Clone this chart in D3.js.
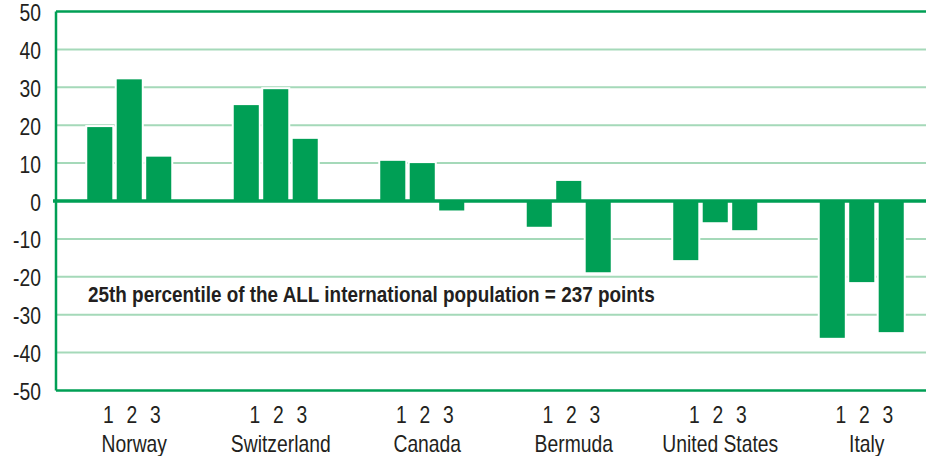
<!DOCTYPE html>
<html>
<head>
<meta charset="utf-8">
<script src="https://cdn.jsdelivr.net/npm/d3@7"></script>
<style>
  html, body { margin: 0; padding: 0; background: #fff; }
  svg { display: block; }
  text { font-family: "Liberation Sans", Arial, sans-serif; fill: #231f20; }
</style>
</head>
<body>
<svg id="chart" width="926" height="456"></svg>
<script>
// Score differences by country, three sub-groups each
const countries = ["Norway", "Switzerland", "Canada", "Bermuda", "United States", "Italy"];
const subGroups = ["1", "2", "3"];
const group1 = [19.5, 25.3, 10.6, -6.8, -15.6, -36.1];
const group2 = [32.1, 29.5, 10.0, 5.3, -5.6, -21.4];
const group3 = [11.7, 16.4, -2.5, -18.8, -7.7, -34.6];
const yTicks = [50, 40, 30, 20, 10, 0, -10, -20, -30, -40, -50];
const note = "25th percentile of the ALL international population = 237 points";

const rows = countries.map((c, i) => ({
  country: c,
  values: [group1[i], group2[i], group3[i]].map((v, j) => ({ key: subGroups[j], value: v }))
}));

const left = 56, right = 926;
const narrow = 0.84; // horizontal squeeze for a condensed look
const svg = d3.select("#chart");

const green = "#009f55";
const gridGreen = "#a5d9b9";

const y = d3.scaleLinear().domain([-50, 50]).range([390.5, 11.5]);
const x0 = d3.scaleBand().domain(countries).range([left, 935]).padding(0);

// light gridlines
svg.append("g").selectAll("line")
  .data(yTicks.filter(t => t !== 0 && Math.abs(t) !== 50))
  .join("line")
  .attr("x1", left).attr("x2", right)
  .attr("y1", d => y(d)).attr("y2", d => y(d))
  .attr("stroke", gridGreen).attr("stroke-width", 2);

// frame: left, top and bottom
svg.append("line").attr("x1", left).attr("x2", left).attr("y1", y(50)).attr("y2", y(-50))
  .attr("stroke", green).attr("stroke-width", 2.5);
svg.append("line").attr("x1", left).attr("x2", right).attr("y1", y(50)).attr("y2", y(50))
  .attr("stroke", green).attr("stroke-width", 2.5);
svg.append("line").attr("x1", left).attr("x2", right).attr("y1", y(-50)).attr("y2", y(-50))
  .attr("stroke", green).attr("stroke-width", 2.5);

// bars
const groups = svg.append("g").selectAll("g")
  .data(rows)
  .join("g")
  .attr("transform", d => `translate(${x0(d.country) + x0.bandwidth() / 2},0)`);

const x1 = d3.scaleBand().domain(subGroups).range([-42, 42]).paddingInner(0.15);

// white halo so gridlines break around each bar
groups.selectAll("rect.halo")
  .data(d => d.values)
  .join("rect")
  .attr("class", "halo")
  .attr("x", d => x1(d.key) - 2)
  .attr("width", x1.bandwidth() + 4)
  .attr("y", d => Math.min(y(d.value), y(0)) - 2)
  .attr("height", d => Math.abs(y(d.value) - y(0)) + 4)
  .attr("fill", "#fff");

groups.selectAll("rect.bar")
  .data(d => d.values)
  .join("rect")
  .attr("class", "bar")
  .attr("x", d => x1(d.key))
  .attr("width", x1.bandwidth())
  .attr("y", d => Math.min(y(d.value), y(0)))
  .attr("height", d => Math.abs(y(d.value) - y(0)))
  .attr("fill", green);

// zero line on top
svg.append("line").attr("x1", left - 3).attr("x2", right).attr("y1", y(0)).attr("y2", y(0))
  .attr("stroke", green).attr("stroke-width", 3.5);

// place text at (x, y) with a horizontal squeeze
const place = (x, yy) => `translate(${x},${yy}) scale(${narrow},1)`;

// y tick labels
svg.append("g").selectAll("text")
  .data(yTicks)
  .join("text")
  .attr("transform", d => place(41, y(d) + 9.5))
  .attr("text-anchor", "end")
  .attr("font-size", 23)
  .text(d => d);

// sub-group numbers under each country
const subPos = d3.scalePoint().domain(subGroups).range([-21, 26]);
groups.selectAll("text.sub")
  .data(subGroups)
  .join("text")
  .attr("class", "sub")
  .attr("transform", d => place(subPos(d), 423))
  .attr("text-anchor", "middle")
  .attr("font-size", 23)
  .text(d => d);

// country names
groups.append("text")
  .attr("transform", place(5, 452))
  .attr("text-anchor", "middle")
  .attr("font-size", 23)
  .text(d => d.country);

// annotation
svg.append("text")
  .attr("transform", `translate(88,301.5) scale(0.86,1)`)
  .attr("font-size", 22)
  .attr("font-weight", "bold")
  .text(note);
</script>
</body>
</html>
